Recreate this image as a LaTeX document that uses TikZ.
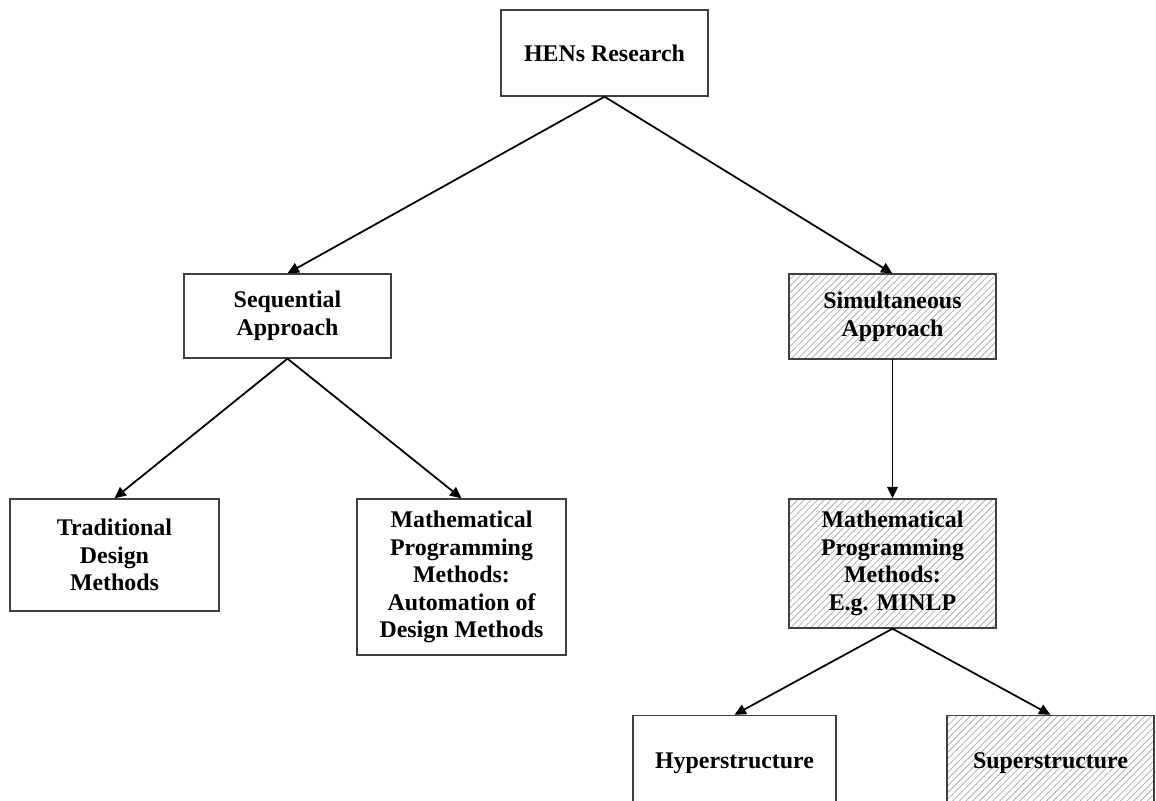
\documentclass[tikz,border=0pt]{standalone}
\usepackage{fontspec}
\setmainfont{Liberation Serif}
\usetikzlibrary{arrows.meta,patterns.meta}
\tikzset{
  box/.style={draw=black!75, line width=0.8pt, align=center, inner sep=2pt,
    font=\fontsize{13.6}{15.7}\selectfont\bfseries, fill=white},
  hatched/.style={pattern={Lines[angle=45,distance=2.7pt,line width=0.45pt]}, pattern color=black!32},
  conn/.style={line width=1pt, -{Triangle[length=6.5pt,width=6pt]}}
}
\begin{document}
\begin{tikzpicture}[x=0.02cm,y=0.02cm]
\useasboundingbox (0,0) rectangle (1156,-801);
\clip (0,0) rectangle (1156,-801);
\node[box, minimum width=4.14cm, minimum height=1.72cm] (hens) at (604.5,-53) {HENs Research};
\node[box, minimum width=4.14cm, minimum height=1.68cm] (seq) at (287.5,-316) {Sequential\\Approach};
\node[box, hatched, minimum width=4.14cm, minimum height=1.70cm] (sim) at (892.5,-316.5) {Simultaneous\\Approach};
\node[box, minimum width=4.18cm, minimum height=2.24cm] (trad) at (114.5,-555) {Traditional\\Design\\Methods};
\node[box, minimum width=4.18cm, minimum height=3.12cm] (math) at (461.5,-577) {Mathematical\\Programming\\Methods:\\Automation of\\Design Methods};
\node[box, hatched, minimum width=4.14cm, minimum height=2.58cm] (minlp) at (892.5,-563.5) {Mathematical\\Programming\\Methods:\\E.g. MINLP};
\node[box, minimum width=4.06cm, minimum height=1.9cm] (hyper) at (734.5,-763) {Hyperstructure};
\node[box, hatched, minimum width=4.14cm, minimum height=1.9cm] (super) at (1050.5,-763) {Superstructure};
\draw[conn] (hens.south) -- (seq.north);
\draw[conn] (hens.south) -- (sim.north);
\draw[conn] (seq.south) -- (trad.north);
\draw[conn] (seq.south) -- (math.north);
\draw[conn] (sim.south) -- (minlp.north);
\draw[conn] (minlp.south) -- (hyper.north);
\draw[conn] (minlp.south) -- (super.north);
\end{tikzpicture}
\end{document}
